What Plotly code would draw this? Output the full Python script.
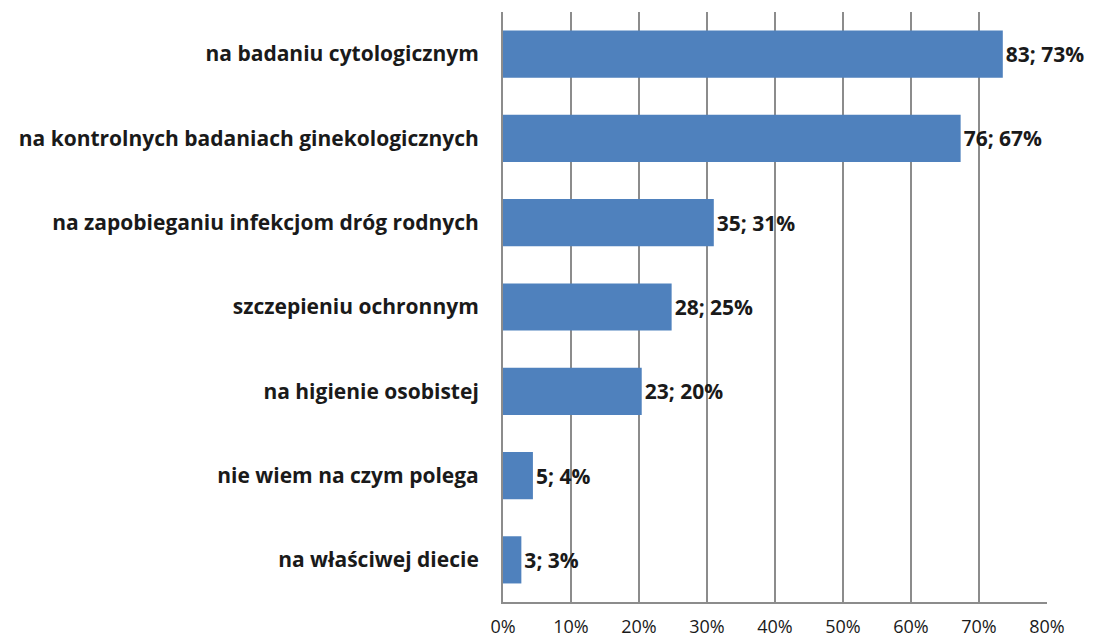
import plotly.graph_objects as go

categories = [
    "na badaniu cytologicznym",
    "na kontrolnych badaniach ginekologicznych",
    "na zapobieganiu infekcjom dróg rodnych",
    "szczepieniu ochronnym",
    "na higienie osobistej",
    "nie wiem na czym polega",
    "na właściwej diecie",
]
counts = [83, 76, 35, 28, 23, 5, 3]
percents = [73.5, 67.3, 31.0, 24.8, 20.4, 4.4, 2.7]
percent_labels = ["73%", "67%", "31%", "25%", "20%", "4%", "3%"]

labels = [f"{c}; {p}" for c, p in zip(counts, percent_labels)]

fig = go.Figure()
fig.add_trace(go.Bar(
    y=categories,
    x=percents,
    orientation="h",
    marker=dict(color="#4F81BD", line=dict(width=0)),
    text=labels,
    textposition="outside",
    cliponaxis=False,
    textfont=dict(family="Open Sans", size=21, color="#1a1a1a", weight="bold"),
))

# the page body adds an 8px offset, so the figure is a bit smaller than the window
fig.update_layout(
    width=1088, height=635,
    margin=dict(l=495, r=49, t=4, b=41),
    plot_bgcolor="white",
    paper_bgcolor="white",
    bargap=0.44,
    showlegend=False,
    font=dict(family="Open Sans", color="#1a1a1a"),
)
fig.update_xaxes(
    range=[0, 80],
    tickvals=[0, 10, 20, 30, 40, 50, 60, 70, 80],
    ticktext=["0%", "10%", "20%", "30%", "40%", "50%", "60%", "70%", "80%"],
    showgrid=True, gridcolor="#8c8c8c", gridwidth=2,
    zeroline=False,
    showline=True, linecolor="#8c8c8c", linewidth=2,
    ticks="", ticklabelstandoff=7,
    automargin=False,
    tickfont=dict(family="Open Sans", size=18, color="#1a1a1a"),
)
fig.update_yaxes(
    autorange="reversed",
    showline=True, linecolor="#8c8c8c", linewidth=2,
    showgrid=False,
    ticks="", ticklabelstandoff=18,
    automargin=False,
    tickfont=dict(family="Open Sans", size=21, color="#1a1a1a", weight="bold"),
)

fig.write_html("out.html")
